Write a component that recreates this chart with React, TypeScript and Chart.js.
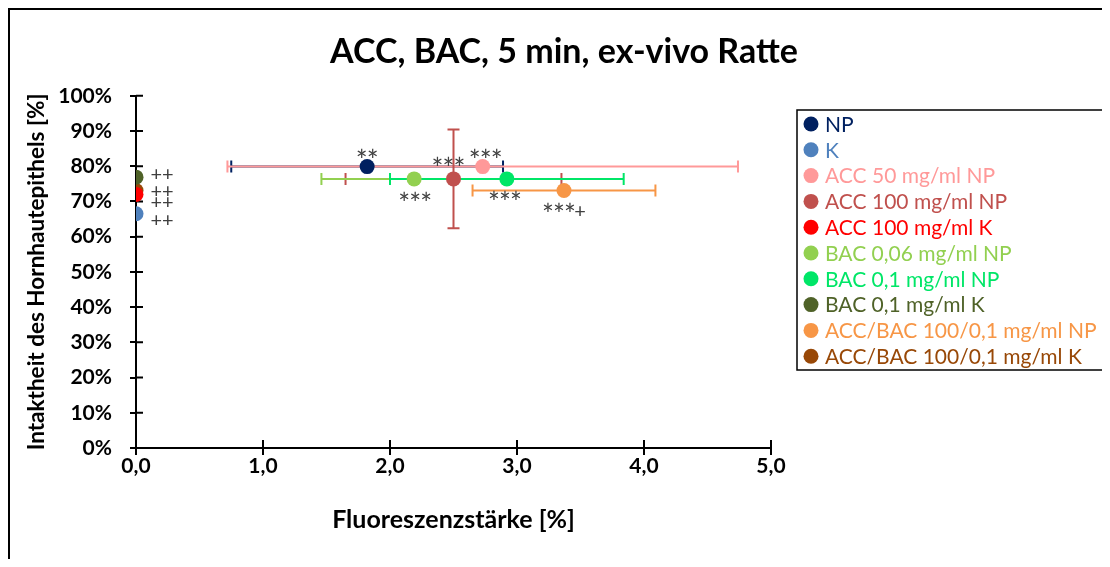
import React, { useEffect, useRef } from 'react';
import { Chart, registerables } from 'chart.js';

Chart.register(...registerables);

// ---- data ----
const chartTitle = 'ACC, BAC, 5 min, ex-vivo Ratte';
const xAxisTitle = 'Fluoreszenzstärke [%]';
const yAxisTitle = 'Intaktheit des Hornhautepithels [%]';

const seriesNames = [
  'NP',
  'K',
  'ACC 50 mg/ml NP',
  'ACC 100 mg/ml NP',
  'ACC 100 mg/ml K',
  'BAC 0,06 mg/ml NP',
  'BAC 0,1 mg/ml NP',
  'BAC 0,1 mg/ml K',
  'ACC/BAC 100/0,1 mg/ml NP',
  'ACC/BAC 100/0,1 mg/ml K',
];
const seriesColors = [
  '#002060',
  '#4F81BD',
  '#FF9999',
  '#C0504D',
  '#FF0000',
  '#92D050',
  '#00E667',
  '#4F6228',
  '#F79646',
  '#984807',
];
const fluorescence = [1.82, 0, 2.73, 2.5, 0, 2.19, 2.92, 0, 3.37, 0];
const intactness = [79.9, 66.5, 79.9, 76.4, 72.0, 76.4, 76.4, 76.9, 73.1, 73.1];
const fluorescenceError = [1.07, 0, 2.01, 0.85, 0, 0.73, 0.92, 0, 0.72, 0];
const intactnessError = [0, 0, 0, 14, 0, 0, 0, 0, 0, 0];

const xMin = 0;
const xMax = 5;
const xStep = 1;
const yMin = 0;
const yMax = 100;
const yStep = 10;

// significance marks (text, series index)
const markTexts = ['**', '***', '***', '***', '***', '***', '+', '++', '++', '++', '++'];
const markSeries = [0, 2, 3, 5, 6, 8, 8, 7, 9, 4, 1];
// style: pixel offsets of the marks from their point (baseline position)
const markDx = [0, 3, -5, 1, -2, -5, 16, 26, 26, 26, 26];
const markDy = [2, 2, -2, 33, 32, 32, 27, 4, 7, 15, 13];

const FONT = 'Lato, "Liberation Sans", sans-serif';
const W = 1100;
const H = 549;

const errorBarPlugin = {
  id: 'errorBars',
  beforeDatasetsDraw(chart: any) {
    const ctx = chart.ctx;
    const xs = chart.scales.x;
    const ys = chart.scales.y;
    const cap = 6;
    ctx.save();
    ctx.lineWidth = 2;
    ctx.lineCap = 'butt';
    for (let i = 0; i < seriesNames.length; i++) {
      const cx = xs.getPixelForValue(fluorescence[i]);
      const cy = ys.getPixelForValue(intactness[i]);
      ctx.strokeStyle = seriesColors[i];
      if (fluorescenceError[i] > 0) {
        const l = xs.getPixelForValue(fluorescence[i] - fluorescenceError[i]);
        const r = xs.getPixelForValue(fluorescence[i] + fluorescenceError[i]);
        ctx.beginPath();
        ctx.moveTo(l, cy);
        ctx.lineTo(r, cy);
        ctx.moveTo(l, cy - cap);
        ctx.lineTo(l, cy + cap);
        ctx.moveTo(r, cy - cap);
        ctx.lineTo(r, cy + cap);
        ctx.stroke();
      }
      if (intactnessError[i] > 0) {
        const t = ys.getPixelForValue(intactness[i] + intactnessError[i]);
        const b = ys.getPixelForValue(intactness[i] - intactnessError[i]);
        ctx.beginPath();
        ctx.moveTo(cx, t);
        ctx.lineTo(cx, b);
        ctx.moveTo(cx - cap, t);
        ctx.lineTo(cx + cap, t);
        ctx.moveTo(cx - cap, b);
        ctx.lineTo(cx + cap, b);
        ctx.stroke();
      }
    }
    ctx.restore();
  },
};

const crossTicksPlugin = {
  id: 'crossTicks',
  beforeDatasetsDraw(chart: any) {
    const ctx = chart.ctx;
    const xs = chart.scales.x;
    const ys = chart.scales.y;
    const area = chart.chartArea;
    ctx.save();
    ctx.strokeStyle = '#000';
    ctx.lineWidth = 2;
    ctx.beginPath();
    xs.ticks.forEach((_: any, i: number) => {
      const px = xs.getPixelForTick(i);
      ctx.moveTo(px, area.bottom);
      ctx.lineTo(px, area.bottom - 8);
    });
    ys.ticks.forEach((_: any, i: number) => {
      const py = ys.getPixelForTick(i);
      ctx.moveTo(area.left, py);
      ctx.lineTo(area.left + 7, py);
    });
    ctx.stroke();
    ctx.restore();
  },
};

const marksPlugin = {
  id: 'marks',
  afterDatasetsDraw(chart: any) {
    const ctx = chart.ctx;
    ctx.save();
    ctx.fillStyle = '#404040';
    ctx.textAlign = 'center';
    ctx.textBaseline = 'alphabetic';
    const adv = (c: string) => (c === '*' ? 11 : 11.5);
    for (let k = 0; k < markTexts.length; k++) {
      const el = chart.getDatasetMeta(markSeries[k]).data[0];
      const chars = markTexts[k].split('');
      const total = chars.reduce((s, c) => s + adv(c), 0);
      let x = el.x + markDx[k] - total / 2;
      const y = el.y + markDy[k];
      for (const c of chars) {
        ctx.font = c === '*' ? `28px ${FONT}` : `20px ${FONT}`;
        ctx.fillText(c, x + adv(c) / 2, c === '*' ? y + 2.5 : y);
        x += adv(c);
      }
    }
    ctx.restore();
  },
};

const legendPlugin = {
  id: 'boxLegend',
  afterDraw(chart: any) {
    const ctx = chart.ctx;
    const bx = 787;
    const by = 100;
    const bw = 307;
    const bh = 260;
    ctx.save();
    ctx.strokeStyle = '#000';
    ctx.lineWidth = 1.5;
    ctx.strokeRect(bx, by, bw, bh);
    ctx.font = `21px ${FONT}`;
    ctx.textAlign = 'left';
    ctx.textBaseline = 'middle';
    for (let i = 0; i < seriesNames.length; i++) {
      const y = by + 14 + i * 25.8;
      ctx.fillStyle = seriesColors[i];
      ctx.beginPath();
      ctx.arc(bx + 14, y, 7.5, 0, Math.PI * 2);
      ctx.fill();
      ctx.fillText(seriesNames[i], bx + 28, y + 1);
    }
    ctx.restore();
  },
};

export default function App() {
  const ref = useRef<HTMLCanvasElement | null>(null);

  useEffect(() => {
    if (!ref.current) return;
    const datasets = seriesNames.map((name, i) => ({
      label: name,
      data: [{ x: fluorescence[i], y: intactness[i] }],
      backgroundColor: seriesColors[i],
      borderColor: seriesColors[i],
      pointRadius: 7.5,
      pointBorderWidth: 0,
      pointHoverRadius: 7.5,
      showLine: false,
    }));
    const chart = new Chart(ref.current, {
      type: 'scatter',
      data: { datasets },
      plugins: [errorBarPlugin, crossTicksPlugin, marksPlugin, legendPlugin],
      options: {
        responsive: false,
        animation: false,
        devicePixelRatio: 1,
        layout: { padding: { left: 8, right: 0, top: 0, bottom: 0 } },
        plugins: {
          legend: { display: false },
          tooltip: { enabled: false },
          title: {
            display: true,
            text: chartTitle,
            color: '#000',
            font: { family: FONT, size: 34, weight: 'bold', lineHeight: 1.2 },
            padding: { top: 22, bottom: 23 },
          },
        },
        scales: {
          x: {
            type: 'linear',
            min: xMin,
            max: xMax,
            ticks: {
              stepSize: xStep,
              color: '#000',
              padding: -1,
              font: { family: FONT, size: 21, weight: 'bold' },
              callback: (v: any) => Number(v).toFixed(1).replace('.', ','),
            },
            grid: {
              display: true,
              drawOnChartArea: false,
              drawTicks: true,
              tickLength: 7,
              color: '#000',
              lineWidth: 2,
            },
            border: { display: true, color: '#000', width: 2 },
            title: {
              display: true,
              text: xAxisTitle,
              color: '#000',
              font: { family: FONT, size: 25, weight: 'bold', lineHeight: 1.2 },
              padding: { top: 0, bottom: 24 },
            },
            afterFit: (s: any) => {
              s.height = 111;
            },
          },
          y: {
            type: 'linear',
            min: yMin,
            max: yMax,
            ticks: {
              stepSize: yStep,
              color: '#000',
              padding: 18,
              font: { family: FONT, size: 21, weight: 'bold' },
              callback: (v: any) => `${v}%`,
            },
            grid: {
              display: true,
              drawOnChartArea: false,
              drawTicks: true,
              tickLength: 6,
              color: '#000',
              lineWidth: 2,
            },
            border: { display: true, color: '#000', width: 2 },
            title: {
              display: true,
              text: yAxisTitle,
              color: '#000',
              font: { family: FONT, size: 22.5, weight: 'bold', lineHeight: 1.2 },
              padding: { top: 5.5, bottom: 0 },
            },
            afterFit: (s: any) => {
              s.width = 118;
            },
          },
          spacer: {
            type: 'linear',
            position: 'right',
            display: true,
            grid: { display: false },
            ticks: { display: false },
            border: { display: false },
            afterFit: (s: any) => {
              s.width = 339;
            },
          },
        },
      } as any,
    });
    return () => chart.destroy();
  }, []);

  return (
    <div
      style={{
        width: W,
        height: H,
        borderLeft: '2px solid #000',
        borderTop: '2px solid #000',
      }}
    >
      <canvas ref={ref} width={W} height={H} style={{ display: 'block' }} />
    </div>
  );
}
